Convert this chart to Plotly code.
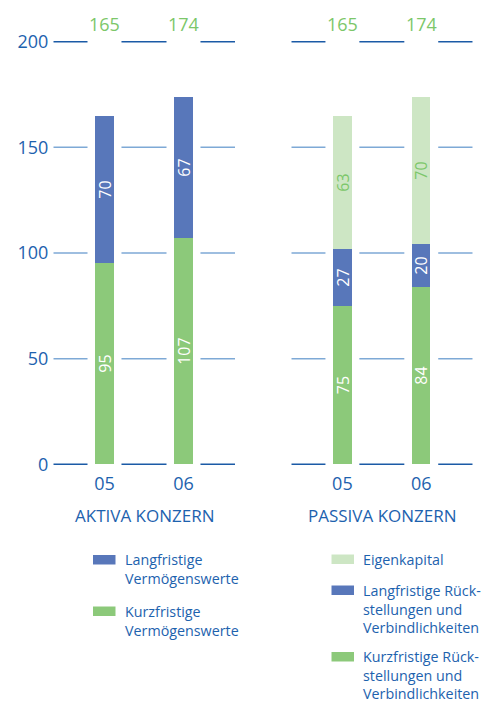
import plotly.graph_objects as go

# ---------------- data ----------------
categories = ["05", "06"]
aktiva_lang = [70, 67]
aktiva_kurz = [95, 107]
aktiva_total = [165, 174]
passiva_eigen = [63, 70]
passiva_lang = [27, 20]
passiva_kurz = [75, 84]
passiva_total = [165, 174]
y_ticks = [0, 50, 100, 150, 200]
panel_titles = ["AKTIVA KONZERN", "PASSIVA KONZERN"]
aktiva_names = ["Langfristige<br>Vermögenswerte", "Kurzfristige<br>Vermögenswerte"]
passiva_names = ["Eigenkapital",
                 "Langfristige Rück-<br>stellungen und<br>Verbindlichkeiten",
                 "Kurzfristige Rück-<br>stellungen und<br>Verbindlichkeiten"]

# ---------------- style ----------------
W, H = 486, 702
FONT = "Open Sans"
BLUE = "#5877ba"
GREEN = "#8cc97a"
LIGHT = "#cde6c4"
TOTAL_GREEN = "#7cc76a"
TEXT_BLUE = "#1d62ae"
GRID_DARK = "#1b5aa6"
GRID_LIGHT = "#7ea9d6"


def px(x):   # window x pixel -> paper fraction
    return x / W


def py(y):   # window y pixel -> paper fraction
    return 1 - y / H


X_RANGE = [-0.648, 1.652]
BAR_W = 0.24
GAP = 0.215
Y_RANGE = [-1, 205]
y_dom = [py(466.4), py(31.1)]

fig = go.Figure()


def bar(x, y, color, name, axis, tcolor):
    return go.Bar(x=x, y=y, name=name, marker=dict(color=color, line=dict(width=0)),
                  width=BAR_W, xaxis=axis[0], yaxis=axis[1],
                  texttemplate="%{y}", textposition="inside", insidetextanchor="middle",
                  textangle=-90, constraintext="none",
                  textfont=dict(family=FONT, size=16, color=tcolor),
                  showlegend=False, hoverinfo="skip")


fig.add_trace(bar(categories, aktiva_kurz, GREEN, "Kurzfristige Vermögenswerte", ("x", "y"), "white"))
fig.add_trace(bar(categories, aktiva_lang, BLUE, "Langfristige Vermögenswerte", ("x", "y"), "white"))
fig.add_trace(bar(categories, passiva_kurz, GREEN, "Kurzfristige", ("x2", "y2"), "white"))
fig.add_trace(bar(categories, passiva_lang, BLUE, "Langfristige", ("x2", "y2"), "white"))
fig.add_trace(bar(categories, passiva_eigen, LIGHT, "Eigenkapital", ("x2", "y2"), TOTAL_GREEN))

shapes = []
annotations = []
for ax, totals in (("x", aktiva_total), ("x2", passiva_total)):
    yref = "y" if ax == "x" else "y2"
    n = len(categories)
    bounds = [X_RANGE[0]]
    for i in range(n):
        bounds += [i - GAP, i + GAP]
    bounds.append(X_RANGE[1])
    for t in y_ticks:
        col = GRID_DARK if t in (y_ticks[0], y_ticks[-1]) else GRID_LIGHT
        for k in range(0, len(bounds), 2):
            shapes.append(dict(type="line", xref=ax, yref=yref, x0=bounds[k], x1=bounds[k + 1],
                               y0=t, y1=t, line=dict(color=col, width=1.5), layer="below"))
    for i, tot in enumerate(totals):
        annotations.append(dict(x=i, y=y_ticks[-1], xref=ax, yref=yref, yshift=17.5,
                                text=str(tot), showarrow=False, yanchor="middle",
                                font=dict(family=FONT, size=18, color=TOTAL_GREEN)))

# panel titles
for ax, title in (("x", panel_titles[0]), ("x2", panel_titles[1])):
    annotations.append(dict(x=0.5, xref=ax + " domain", y=py(515), yref="paper",
                            text=title, showarrow=False, yanchor="middle",
                            font=dict(family=FONT, size=17, color=TEXT_BLUE)))


# legends (custom)
def legend_item(x_sw, y_top, color, text):
    shapes.append(dict(type="rect", xref="paper", yref="paper",
                       x0=px(x_sw), x1=px(x_sw + 22.5),
                       y0=py(y_top + 9.5), y1=py(y_top),
                       fillcolor=color, line=dict(width=0)))
    annotations.append(dict(x=px(x_sw + 29.5), y=py(y_top - 7), xref="paper", yref="paper",
                            text=text, showarrow=False, xanchor="left", yanchor="top", align="left",
                            font=dict(family=FONT, size=14.3, color=TEXT_BLUE)))


legend_item(93, 555, BLUE, aktiva_names[0])
legend_item(93, 606.5, GREEN, aktiva_names[1])
legend_item(331.5, 554.5, LIGHT, passiva_names[0])
legend_item(331.5, 585.5, BLUE, passiva_names[1])
legend_item(331.5, 652, GREEN, passiva_names[2])

axis_common = dict(showgrid=False, zeroline=False, showline=False, ticks="")
fig.update_layout(
    width=W, height=H, margin=dict(l=0, r=0, t=0, b=0),
    paper_bgcolor="white", plot_bgcolor="white",
    barmode="stack", bargap=0,
    font=dict(family=FONT, color=TEXT_BLUE),
    xaxis=dict(domain=[px(53.3), px(235)], range=X_RANGE, type="category",
               tickfont=dict(family=FONT, size=18, color=TEXT_BLUE), anchor="y",
               ticklabelstandoff=5, automargin=False, **axis_common),
    xaxis2=dict(domain=[px(291.3), px(472.7)], range=X_RANGE, type="category",
                tickfont=dict(family=FONT, size=18, color=TEXT_BLUE), anchor="y2",
                ticklabelstandoff=5, automargin=False, **axis_common),
    yaxis=dict(domain=y_dom, range=Y_RANGE, tickvals=y_ticks, anchor="x",
               tickfont=dict(family=FONT, size=18, color=TEXT_BLUE), automargin=False,
               ticklabelstandoff=4, **axis_common),
    yaxis2=dict(domain=y_dom, range=Y_RANGE, tickvals=y_ticks, anchor="x2",
                showticklabels=False, **axis_common),
    shapes=shapes, annotations=annotations,
)

fig.write_html("out.html", config={"displayModeBar": False},
               post_script="document.body.style.margin='0';document.body.style.overflow='hidden';")
